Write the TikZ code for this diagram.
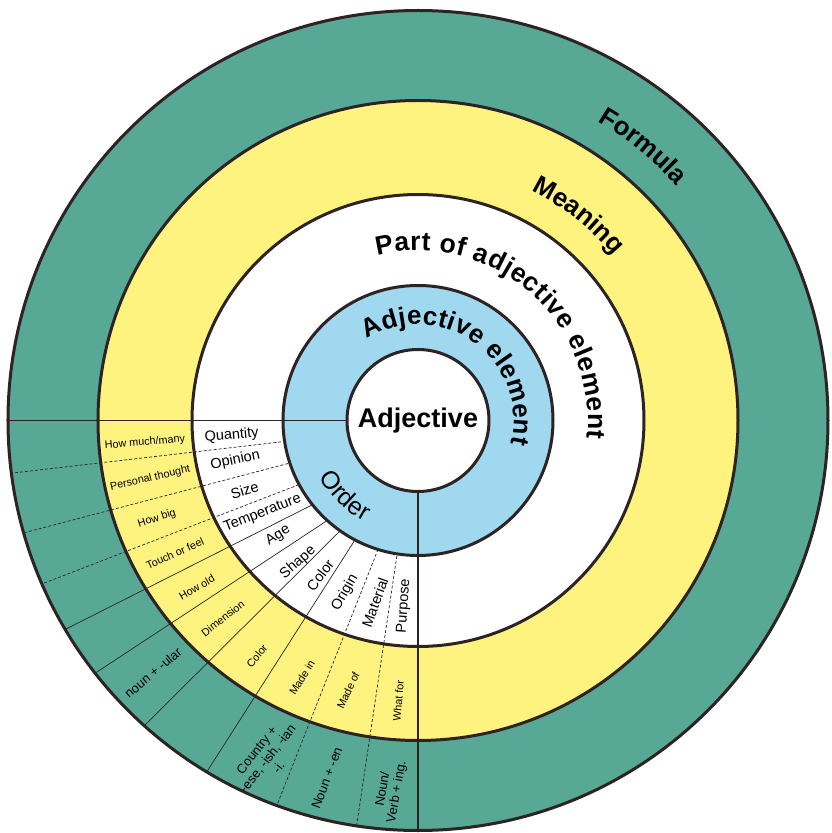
\documentclass[tikz,border=0pt]{standalone}
\usepackage{fontspec}
\setmainfont{Liberation Sans}
\usetikzlibrary{decorations.text}

\definecolor{formulagreen}{RGB}{88,168,150}
\definecolor{meaningyellow}{RGB}{255,243,128}
\definecolor{elementblue}{RGB}{160,216,240}
\definecolor{edgegray}{RGB}{45,35,35}

\newcommand{\ringtitle}{\fontsize{26}{26}\selectfont\bfseries}
\newcommand{\parttitle}{\fontsize{26.5}{26.5}\selectfont\bfseries}
\newcommand{\ordertitle}{\fontsize{25}{25}\selectfont}

\begin{document}
\begin{tikzpicture}[x=1pt, y=1pt,
  rim/.style={draw=edgegray, line width=3pt},
  divider/.style={draw=edgegray, line width=1.4pt},
  sepdash/.style={draw=edgegray, line width=0.7pt, dash pattern=on 3pt off 2pt, shorten <=-8pt, shorten >=-8pt},
  sepline/.style={draw=edgegray, line width=0.7pt, shorten <=-8pt, shorten >=-8pt},
  part/.style={inner sep=0pt, font=\fontsize{14.5}{14.5}\selectfont},
  mean/.style={inner sep=0pt, font=\fontsize{10.8}{10.8}\selectfont},
  form/.style={inner sep=0pt, align=center, font=\fontsize{13}{14}\selectfont}]

\useasboundingbox (-418,-412.5) rectangle (413,420.5);

% separators of the lower left quarter (outer end, inner end)
\coordinate (o1) at (-405,-52.5);  \coordinate (i1) at (-138,-21.5);
\coordinate (o2) at (-391,-111.5); \coordinate (i2) at (-128,-42.5);
\coordinate (o3) at (-371,-161.5); \coordinate (i3) at (-120,-64.5);
\coordinate (o4) at (-348,-206.5); \coordinate (i4) at (-110,-86.5);
\coordinate (o5) at (-318,-249.5); \coordinate (i5) at (-93,-101.5);
\coordinate (o6) at (-271,-302.5); \coordinate (i6) at (-80,-112.5);
\coordinate (o7) at (-210,-349.5); \coordinate (i7) at (-65,-122.5);
\coordinate (o8) at (-141,-384.5); \coordinate (i8) at (-41,-131.5);
\coordinate (o9) at (-61,-402.5);  \coordinate (i9) at (-21,-134.5);

% Formula ring
\fill[formulagreen] (0,0) circle (410);
\begin{scope}
\clip (0,0) circle (410);
\draw[sepdash] (o1) -- (i1);
\draw[sepdash] (o2) -- (i2);
\draw[sepdash] (o3) -- (i3);
\draw[sepline] (o4) -- (i4);
\draw[sepline] (o5) -- (i5);
\draw[sepline] (o6) -- (i6);
\draw[sepline] (o7) -- (i7);
\draw[sepdash] (o8) -- (i8);
\draw[sepdash] (o9) -- (i9);
\end{scope}

% Meaning ring
\fill[meaningyellow] (0,0) circle (320);
\begin{scope}
\clip (0,0) circle (320);
\draw[sepdash] (o1) -- (i1);
\draw[sepdash] (o2) -- (i2);
\draw[sepdash] (o3) -- (i3);
\draw[sepline] (o4) -- (i4);
\draw[sepline] (o5) -- (i5);
\draw[sepline] (o6) -- (i6);
\draw[sepline] (o7) -- (i7);
\draw[sepdash] (o8) -- (i8);
\draw[sepdash] (o9) -- (i9);
\end{scope}

% Part of adjective element ring
\fill[white] (0,0) circle (226);
\begin{scope}
\clip (0,0) circle (226);
\draw[sepdash] (o1) -- (i1);
\draw[sepdash] (o2) -- (i2);
\draw[sepdash] (o3) -- (i3);
\draw[sepline] (o4) -- (i4);
\draw[sepline] (o5) -- (i5);
\draw[sepline] (o6) -- (i6);
\draw[sepline] (o7) -- (i7);
\draw[sepdash] (o8) -- (i8);
\draw[sepdash] (o9) -- (i9);
\end{scope}

\fill[elementblue] (0,0) circle (135);
\fill[white] (0,0) circle (71);

\draw[divider] (180:410) -- (180:71);
\draw[divider] (270:410) -- (270:71);

\draw[rim] (0,0) circle (410);
\draw[rim] (0,0) circle (320);
\draw[rim] (0,0) circle (226);
\draw[rim] (0,0) circle (135);
\draw[rim] (0,0) circle (71);

% ring titles
\path[decorate, decoration={text along path, text align=center,
  text={|\ringtitle|Formula}}] (80.6:349) arc[start angle=80.6, end angle=20.6, radius=349];
\path[decorate, decoration={text along path, text align=center,
  text={|\ringtitle|Meaning}}] (82:256) arc[start angle=82, end angle=22, radius=256];
\path[decorate, decoration={text along path, text align=fit to path,
  text={|\parttitle|Part of adjective element}}] (103.9:170) arc[start angle=103.9, end angle=-6.1, radius=170];
\path[decorate, decoration={text along path, text align=fit to path,
  text={|\ringtitle|Adjective element}}] (122.2:96) arc[start angle=122.2, end angle=-14, radius=96];
\path[decorate, decoration={text along path, text align=center,
  text={|\ordertitle|Order}}] (196:114) arc[start angle=196, end angle=256, radius=114];

\node[font=\fontsize{27}{27}\selectfont\bfseries] (adjective) at (0,0) {Adjective};

% Part of adjective element
\node[part, rotate=5] (quantity) at (184.6:187) {Quantity};
\node[part, rotate=12] (opinion) at (192.3:187) {Opinion};
\node[part, rotate=17] (size) at (202:187) {Size};
\node[part, rotate=21] (temperature) at (210.8:181) {Temperature};
\node[part, rotate=33] (age) at (219.4:181) {Age};
\node[part, rotate=41] (shape) at (229.8:186) {Shape};
\node[part, rotate=53] (color) at (237.7:183) {Color};
\node[part, rotate=60] (origin) at (247:187) {Origin};
\node[part, rotate=70] (material) at (256.7:187) {Material};
\node[part, rotate=86] (purpose) at (265.7:186) {Purpose};

% Meaning
\node[mean, rotate=5] (howmuch) at (184.6:274) {How much/many};
\node[mean, rotate=13] (thought) at (192.2:274) {Personal thought};
\node[mean, rotate=18] (howbig) at (200.6:279) {How big};
\node[mean, rotate=24] (touch) at (208.7:277) {Touch or feel};
\node[mean, rotate=30] (howold) at (217:277) {How old};
\node[mean, rotate=38] (dimension) at (225.4:278) {Dimension};
\node[mean, rotate=50] (colour) at (235.6:285) {Color};
\node[mean, rotate=58] (madein) at (245.7:282) {Made in};
\node[mean, rotate=65] (madeof) at (255.5:279) {Made of};
\node[mean, rotate=85] (whatfor) at (266:281) {What for};

% Formula
\node[form, rotate=40] (ular) at (223.6:366) {noun + -ular};
\node[form, rotate=52] (country) at (246:370) {Country +\\-ese, -ish, -ian\\-i.};
\node[form, rotate=69] (en) at (255.7:369) {Noun + -en};
\node[form, rotate=80] (ing) at (265.7:371) {Noun/\\Verb + ing.};
\end{tikzpicture}
\end{document}
